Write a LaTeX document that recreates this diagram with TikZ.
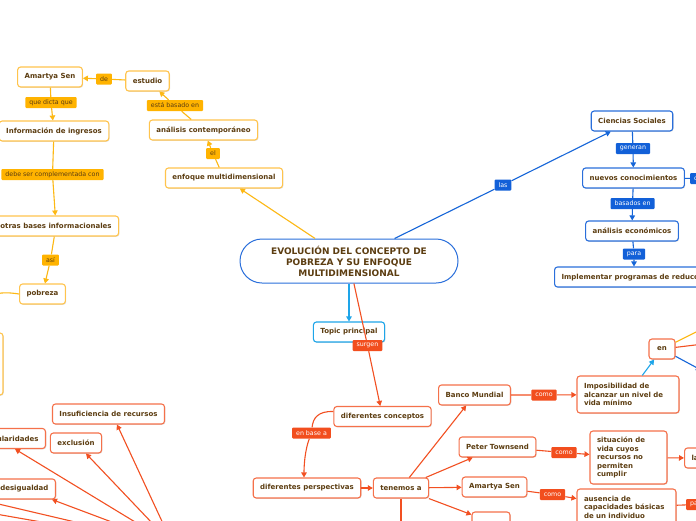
\documentclass[tikz,border=0pt]{standalone}
\usepackage{fontspec}
\setmainfont{DejaVu Sans}
\usetikzlibrary{arrows.meta,shadows}
\definecolor{txt}{HTML}{5C3D11}
\definecolor{yelline}{HTML}{FDB813}
\definecolor{yelfill}{HTML}{FFB300}
\definecolor{yeledge}{HTML}{FFC44D}
\definecolor{blueline}{HTML}{1565D8}
\definecolor{bluefill}{HTML}{1260D8}
\definecolor{blueedge}{HTML}{2A6FDB}
\definecolor{cyanline}{HTML}{1EA5E9}
\definecolor{orgline}{HTML}{F25022}
\definecolor{orgfill}{HTML}{F24E1E}
\definecolor{orgedge}{HTML}{F5714A}
\begin{document}
\begin{tikzpicture}[x=1pt,y=-1pt,
  >={Triangle[length=5pt,width=5.5pt]},
  topicbox/.style={draw, line width=1.1pt, rounded corners=3pt, fill=white,
    text=txt, font=\bfseries\fontsize{7}{8.5}\selectfont, inner xsep=7pt,
    inner ysep=0pt, minimum height=20pt,
    drop shadow={shadow xshift=0.8pt,shadow yshift=-0.8pt,opacity=0.25}},
  yelbox/.style={topicbox, draw=yeledge},
  bluebox/.style={topicbox, draw=blueedge},
  cyanbox/.style={topicbox, draw=cyanline},
  orgbox/.style={topicbox, draw=orgedge},
  tagbox/.style={rounded corners=1pt, font=\fontsize{6.3}{7}\selectfont,
    inner xsep=4pt, inner ysep=0pt, minimum height=11pt},
  yeltag/.style={tagbox, fill=yelfill, text=txt},
  bluetag/.style={tagbox, fill=bluefill, text=white},
  orgtag/.style={tagbox, fill=orgfill, text=white},
  yelwire/.style={draw=yelline, line width=1.1pt},
  bluewire/.style={draw=blueline, line width=1.1pt},
  cyanwire/.style={draw=cyanline, line width=1.1pt},
  orgwire/.style={draw=orgline, line width=1.1pt}]
  \useasboundingbox (0,0) rectangle (696,520);
  \clip (0,0) rectangle (696,520);
  \fill[white] (0,0) rectangle (696,520);

  \node[draw=blueedge, line width=1pt, rounded corners=22pt, fill=white, text=txt,
    minimum width=218pt, minimum height=44pt, align=center,
    font=\bfseries\fontsize{9}{11}\selectfont] (central) at (349,261)
    {EVOLUCIÓN DEL CONCEPTO DE\\POBREZA Y SU ENFOQUE\\MULTIDIMENSIONAL};

  \node[yelbox] (amartya) at (50,77) {Amartya Sen};
  \node[yelbox] (estudio) at (147.5,81) {estudio};
  \node[yelbox] (contemp) at (203.5,130) {análisis contemporáneo};
  \node[yelbox] (enfoque) at (224,178) {enfoque multidimensional};
  \node[yelbox] (ingresos) at (54,131) {Información de ingresos};
  \node[yelbox] (otras) at (56,226) {otras bases informacionales};
  \node[yelbox] (pobreza) at (42.5,294) {pobreza};
  \node[yelbox, minimum width=40pt, minimum height=62pt] (ytall) at (-17,364) {};
  \node[yeltag] (tde) at (104,79) {de};
  \node[yeltag] (tbasado) at (175,105.5) {está basado en};
  \node[yeltag] (tel) at (213,153.5) {el};
  \node[yeltag] (tdicta) at (51,102.5) {que dicta que};
  \node[yeltag] (tcompl) at (52.5,174.5) {debe ser complementada con};
  \node[yeltag] (tasi) at (50.5,260) {así};

  \node[bluebox] (ciencias) at (632,121) {Ciencias Sociales};
  \node[bluebox] (nuevos) at (633.5,178) {nuevos conocimientos};
  \node[bluebox] (economicos) at (632,231) {análisis económicos};
  \node[bluebox, anchor=west] (implem) at (554,277) {Implementar programas de reducción};
  \node[bluetag] (tlas) at (503,185) {las};
  \node[bluetag] (tgeneran) at (633,148.5) {generan};
  \node[bluetag] (tbasados) at (632.5,203.5) {basados en};
  \node[bluetag] (tpara) at (634,254) {para};
  \node[bluetag, anchor=west] (tcomo) at (690,178.5) {como};

  \node[cyanbox] (topic) at (349,332) {Topic principal};

  \node[orgbox] (dconceptos) at (382.5,416.5) {diferentes conceptos};
  \node[orgbox] (dperspect) at (307,488) {diferentes perspectivas};
  \node[orgbox] (tenemos) at (401,488) {tenemos a};
  \node[orgbox] (banco) at (474.5,395) {Banco Mundial};
  \node[orgbox] (peter) at (497.5,447) {Peter Townsend};
  \node[orgbox] (amartyab) at (494.5,487) {Amartya Sen};
  \node[orgbox, minimum width=38pt] (obot) at (491,522) {};
  \node[orgbox, align=left, text width=88pt, minimum height=37pt] (imposib) at (628,394.5)
    {Imposibilidad de\\alcanzar un nivel de\\vida mínimo};
  \node[orgbox, align=left, text width=63pt, minimum height=53pt] (situacion) at (628.5,457.5)
    {situación de\\vida cuyos\\recursos no\\permiten\\cumplir};
  \node[orgbox, align=left, text width=85pt, minimum height=36pt] (ausencia) at (626.5,507)
    {ausencia de\\capacidades básicas\\de un individuo};
  \node[orgbox, minimum width=26pt] (en) at (662,349) {en};
  \node[orgbox, anchor=west] (la) at (684,458) {la};
  \node[orgbox] (insuf) at (108.5,414) {Insuficiencia de recursos};
  \node[orgbox] (exclusion) at (76,443) {exclusión};
  \node[orgbox, anchor=east] (ularid) at (46,438.5) {ularidades};
  \node[orgbox, anchor=east] (desig) at (56,489) {desigualdad};
  \node[orgtag] (tsurgen) at (367.5,345.5) {surgen};
  \node[orgtag] (tenbase) at (311.5,433) {en base a};
  \node[orgtag] (tcomoa) at (544,395) {como};
  \node[orgtag] (tcomob) at (564,452.5) {como};
  \node[orgtag] (tcomoc) at (552.5,494.5) {como};
  \node[orgtag, anchor=west] (tpa) at (686,504.5) {para};

  \coordinate (pout) at (-15,298);
  \coordinate (hub) at (173,545);
  \coordinate (oleft) at (-10,502);
  \coordinate (oleftb) at (-10,513);
  \coordinate (tdown) at (401,530);
  \coordinate (enyel) at (720,320);
  \coordinate (enorg) at (720,342);
  \coordinate (enblue) at (701,370);

  \draw[yelwire,->] (central) -- (enfoque);
  \draw[yelwire,->] (enfoque) -- (tel) -- (contemp);
  \draw[yelwire,->] (contemp) -- (tbasado) -- (estudio);
  \draw[yelwire,->] (estudio) -- (tde) -- (amartya);
  \draw[yelwire,->] (amartya) -- (tdicta) -- (ingresos);
  \draw[yelwire,->] (ingresos) -- (tcompl) -- (otras);
  \draw[yelwire,->] (otras) -- (tasi) -- (pobreza);
  \draw[yelwire] (pobreza.west) .. controls (6,292) and (-3,292) .. (pout);

  \draw[bluewire,->] (central) -- (tlas) -- (ciencias);
  \draw[bluewire,->] (ciencias) -- (tgeneran) -- (nuevos);
  \draw[bluewire,->] (nuevos) -- (tbasados) -- (economicos);
  \draw[bluewire,->] (economicos) -- (tpara) -- (tpara |- implem.north);
  \draw[bluewire] (nuevos) -- (tcomo);

  \draw[cyanwire,->] (central) -- (topic);
  \draw[cyanwire,->] (imposib) -- (en);

  \draw[orgwire,->] (central) -- (tsurgen) -- (dconceptos);
  \draw[orgwire,->] ([yshift=5pt]dconceptos.west) .. controls (318,411) and (313,418) .. (tenbase)
    .. controls (305,450) and (304,465) .. ([xshift=-3pt]dperspect.north);
  \draw[orgwire,->] (dperspect) -- (tenemos);
  \draw[orgwire,->] (tenemos) -- (banco);
  \draw[orgwire,->] (tenemos) -- (peter);
  \draw[orgwire,->] (tenemos) -- (amartyab);
  \draw[orgwire,->] (tenemos) -- (obot);
  \draw[orgwire] (tenemos) -- (tdown);
  \draw[orgwire,->] (banco) -- (tcomoa) -- (imposib);
  \draw[orgwire,->] (peter) -- (tcomob) -- (situacion);
  \draw[orgwire,->] (situacion) -- (la);
  \draw[orgwire,->] (amartyab) -- (tcomoc) -- (ausencia);
  \draw[orgwire] (ausencia) -- (tpa);
  \draw[yelwire] (en) -- (enyel);
  \draw[orgwire] (en) -- (enorg);
  \draw[bluewire,->] (en) -- (enblue);

  \draw[orgwire,->] (hub) -- ([xshift=8.5pt]insuf.south);
  \draw[orgwire,->] (hub) -- ([xshift=10pt]exclusion.south);
  \draw[orgwire,->] (hub) -- ([xshift=-31pt]ularid.south east);
  \draw[orgwire,->] (hub) -- ([xshift=-4pt]desig.south east);
  \draw[orgwire] (hub) -- (oleft);
  \draw[orgwire] (hub) -- (oleftb);
\end{tikzpicture}
\end{document}
